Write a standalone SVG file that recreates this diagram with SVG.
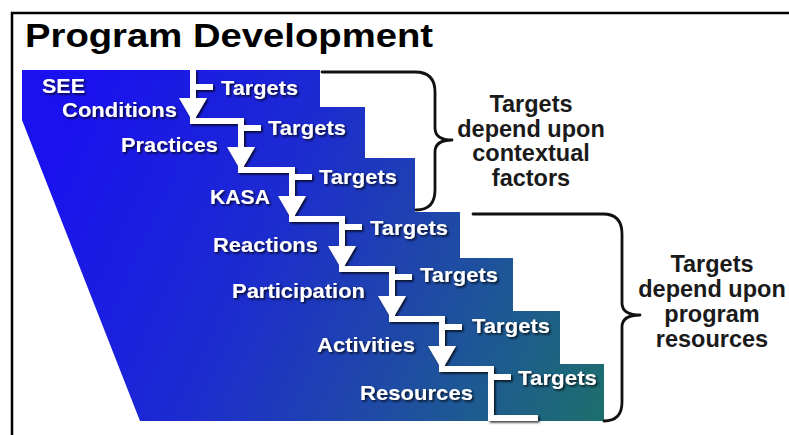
<svg xmlns="http://www.w3.org/2000/svg" width="789" height="435" viewBox="0 0 789 435">
  <style>
    .lbl { font-family: "Liberation Sans", Arial, sans-serif; font-weight: bold; font-size: 20.5px; fill: #ffffff; }
    .side { font-family: "Liberation Sans", Arial, sans-serif; font-weight: bold; font-size: 23.5px; fill: #1a1a1a; text-anchor: middle; }
    .title { font-family: "Liberation Sans", Arial, sans-serif; font-weight: bold; font-size: 34px; fill: #000000; }
    .flow { fill: none; stroke: #ffffff; stroke-width: 6; stroke-linejoin: miter; }
    .tick { stroke: #ffffff; stroke-width: 6; }
    .arrow { fill: #ffffff; }
    .brace { fill: none; stroke: #111111; stroke-width: 2.8; stroke-linejoin: round; stroke-linecap: round; }
  </style>
  <defs>
    <linearGradient id="stairGrad" gradientUnits="userSpaceOnUse" x1="60" y1="150" x2="605" y2="400">
      <stop offset="0" stop-color="#1a12ee"/>
      <stop offset="0.35" stop-color="#1c2ad2"/>
      <stop offset="0.6" stop-color="#1f44ae"/>
      <stop offset="0.8" stop-color="#1e5a92"/>
      <stop offset="1" stop-color="#1d6e6e"/>
    </linearGradient>
    <filter id="shadow" x="-10%" y="-10%" width="130%" height="140%">
      <feDropShadow dx="1.6" dy="1.6" stdDeviation="0.8" flood-color="#000000" flood-opacity="0.8"/>
    </filter>
  </defs>

  <rect x="0" y="0" width="789" height="435" fill="#ffffff"/>

  <g id="frame">
    <path d="M12,435 V13 H789" fill="none" stroke="#000000" stroke-width="2.5"/>
  </g>

  <g id="title">
    <text class="title" x="25" y="47" textLength="408" lengthAdjust="spacingAndGlyphs">Program Development</text>
  </g>

  <g id="staircase">
    <polygon fill="url(#stairGrad)" points="22,70 320,70 320,107 365,107 365,158 415,158 415,212 460,212 460,258 513,258 513,311 560,311 560,364 604,364 604,421 140,421 22,120"/>
  </g>

  <g id="connectors" filter="url(#shadow)">
    <path class="flow" d="M193,70 V121 H241 V170 H292 V219 H342 V269 H392 V319 H442 V369 H491 V418 H538"/>
    <line class="tick" x1="193" y1="87" x2="213" y2="87"/>
    <line class="tick" x1="241" y1="128" x2="261" y2="128"/>
    <line class="tick" x1="292" y1="177" x2="312" y2="177"/>
    <line class="tick" x1="342" y1="227" x2="362" y2="227"/>
    <line class="tick" x1="392" y1="277" x2="412" y2="277"/>
    <line class="tick" x1="442" y1="327" x2="462" y2="327"/>
    <line class="tick" x1="491" y1="377" x2="511" y2="377"/>
    <polygon class="arrow" points="179,98 207,98 193,122"/>
    <polygon class="arrow" points="227,147 255,147 241,171"/>
    <polygon class="arrow" points="278,196 306,196 292,220"/>
    <polygon class="arrow" points="328,246 356,246 342,270"/>
    <polygon class="arrow" points="378,296 406,296 392,320"/>
    <polygon class="arrow" points="428,346 456,346 442,370"/>
  </g>

  <g id="labels" filter="url(#shadow)">
    <g id="node-see-conditions">
      <text class="lbl" x="42" y="93" textLength="43" lengthAdjust="spacingAndGlyphs">SEE</text>
      <text class="lbl" x="62" y="117" textLength="115" lengthAdjust="spacingAndGlyphs">Conditions</text>
    </g>
    <g id="node-practices"><text class="lbl" x="121" y="152" textLength="97" lengthAdjust="spacingAndGlyphs">Practices</text></g>
    <g id="node-kasa"><text class="lbl" x="210" y="204" textLength="60" lengthAdjust="spacingAndGlyphs">KASA</text></g>
    <g id="node-reactions"><text class="lbl" x="213" y="252" textLength="105" lengthAdjust="spacingAndGlyphs">Reactions</text></g>
    <g id="node-participation"><text class="lbl" x="232" y="298" textLength="133" lengthAdjust="spacingAndGlyphs">Participation</text></g>
    <g id="node-activities"><text class="lbl" x="317" y="352" textLength="98" lengthAdjust="spacingAndGlyphs">Activities</text></g>
    <g id="node-resources"><text class="lbl" x="360" y="400" textLength="113" lengthAdjust="spacingAndGlyphs">Resources</text></g>

    <g id="targets-1"><text class="lbl" x="221" y="95" textLength="77" lengthAdjust="spacingAndGlyphs">Targets</text></g>
    <g id="targets-2"><text class="lbl" x="268" y="135" textLength="78" lengthAdjust="spacingAndGlyphs">Targets</text></g>
    <g id="targets-3"><text class="lbl" x="319" y="184" textLength="78" lengthAdjust="spacingAndGlyphs">Targets</text></g>
    <g id="targets-4"><text class="lbl" x="370" y="235" textLength="78" lengthAdjust="spacingAndGlyphs">Targets</text></g>
    <g id="targets-5"><text class="lbl" x="420" y="282" textLength="78" lengthAdjust="spacingAndGlyphs">Targets</text></g>
    <g id="targets-6"><text class="lbl" x="472" y="333" textLength="78" lengthAdjust="spacingAndGlyphs">Targets</text></g>
    <g id="targets-7"><text class="lbl" x="518" y="385" textLength="79" lengthAdjust="spacingAndGlyphs">Targets</text></g>
  </g>

  <g id="brace-context">
    <path class="brace" d="M322,72 H415 Q435,72 435,92 V128 Q435,140 452,140 Q435,140 435,152 V190 Q435,210 416,210"/>
    <text class="side" x="531" y="112">Targets</text>
    <text class="side" x="531" y="137">depend upon</text>
    <text class="side" x="531" y="161">contextual</text>
    <text class="side" x="531" y="186">factors</text>
  </g>

  <g id="brace-resources">
    <path class="brace" d="M473,214 H603 Q622,214 622,234 V303 Q622,315 640,315 Q622,315 622,327 V402 Q622,421 604,421"/>
    <text class="side" x="712" y="272">Targets</text>
    <text class="side" x="712" y="297">depend upon</text>
    <text class="side" x="712" y="322">program</text>
    <text class="side" x="712" y="347">resources</text>
  </g>
</svg>
